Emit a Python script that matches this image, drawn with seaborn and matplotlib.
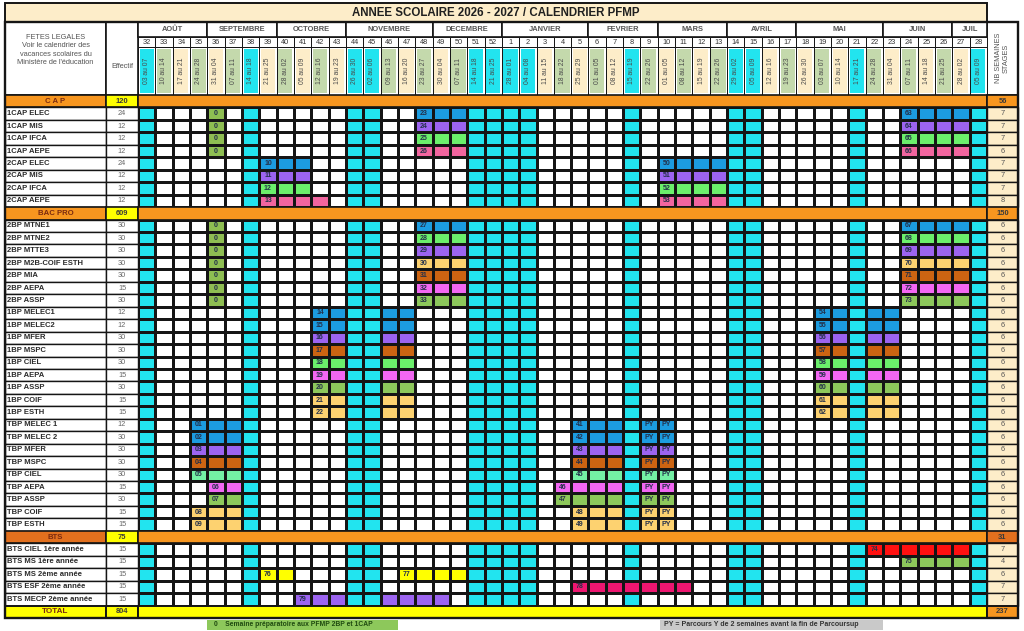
import matplotlib.pyplot as plt
import numpy as np
import seaborn as sns
from matplotlib.colors import ListedColormap
from matplotlib.patches import Rectangle

sns.set_theme(style="white")
plt.rcParams['font.family'] = ['Liberation Sans', 'DejaVu Sans']

TITLE = "ANNEE SCOLAIRE 2026 - 2027 / CALENDRIER PFMP"

# --- calendar header -------------------------------------------------------
weeks = list(range(32, 53)) + list(range(1, 29))
week_dates = ["03 au 07", "10 au 14", "17 au 21", "24 au 28", "31 au 04", "07 au 11", "14 au 18", "21 au 25",
              "28 au 02", "05 au 09", "12 au 16", "19 au 23", "26 au 30", "02 au 06", "09 au 13", "16 au 20",
              "23 au 27", "30 au 04", "07 au 11", "14 au 18", "21 au 25", "28 au 01", "04 au 08", "11 au 15",
              "18 au 22", "25 au 29", "01 au 05", "08 au 12", "15 au 19", "22 au 26", "01 au 05", "08 au 12",
              "15 au 19", "22 au 26", "29 au 02", "05 au 09", "12 au 16", "19 au 23", "26 au 30", "03 au 07",
              "10 au 14", "17 au 21", "24 au 28", "31 au 04", "07 au 11", "14 au 18", "21 au 25", "28 au 02",
              "05 au 09"]
# c = vacances, g / y = alternating shades of the header
week_shade = "cgygygcygygyccgygygccccygygycgygygccygygycgygygyc"
months = ["AOÛT", "SEPTEMBRE", "OCTOBRE", "NOVEMBRE", "DECEMBRE", "JANVIER",
          "FEVRIER", "MARS", "AVRIL", "MAI", "JUIN", "JUIL"]
month_lengths = [4, 4, 4, 5, 4, 5, 4, 4, 4, 5, 4, 2]
holiday_weeks = [w for w, s in zip(weeks, week_shade) if s == "c"]

# --- classes ---------------------------------------------------------------
section_titles = ["C A P", "BAC PRO", "BTS"]
section_effectif = [120, 609, 75]
section_nb = [56, 150, 31]
section_sizes = [8, 25, 5]
total_effectif = 804
total_nb = 237

class_names = ["1CAP ELEC", "1CAP MIS", "1CAP IFCA", "1CAP AEPE",
               "2CAP ELEC", "2CAP MIS", "2CAP IFCA", "2CAP AEPE",
               "2BP MTNE1", "2BP MTNE2", "2BP MTTE3", "2BP M2B-COIF ESTH", "2BP MIA", "2BP AEPA", "2BP ASSP",
               "1BP MELEC1", "1BP MELEC2", "1BP MFER", "1BP MSPC", "1BP CIEL", "1BP AEPA", "1BP ASSP",
               "1BP COIF", "1BP ESTH",
               "TBP MELEC 1", "TBP MELEC 2", "TBP MFER", "TBP MSPC", "TBP CIEL", "TBP AEPA", "TBP ASSP",
               "TBP COIF", "TBP ESTH",
               "BTS CIEL 1ère année", "BTS MS 1ère année", "BTS MS 2ème année", "BTS ESF 2ème année",
               "BTS MECP 2ème année"]
effectifs = [24, 12, 12, 12, 24, 12, 12, 12,
             30, 30, 30, 30, 30, 15, 30,
             12, 12, 30, 30, 30, 15, 30, 15, 15,
             12, 30, 30, 30, 30, 15, 30, 15, 15,
             15, 15, 15, 15, 15]
nb_semaines = [7, 7, 7, 6, 7, 7, 7, 8,
               6, 6, 6, 6, 6, 6, 6,
               6, 6, 6, 6, 6, 6, 6, 6, 6,
               6, 6, 6, 6, 6, 6, 6, 6, 6,
               7, 4, 6, 7, 7]
class_colors = ["blue", "purple", "green", "pink", "blue", "purple", "green", "pink",
                "blue", "green", "purple", "gold", "brown", "magenta", "olive",
                "blue", "blue", "purple", "brown", "green", "magenta", "olive", "gold", "gold",
                "blue", "blue", "purple", "brown", "mint", "magenta", "olive", "gold", "gold",
                "red", "olive", "yellow", "crimson", "purple"]

cap1 = [48, 49, 50]
cap_end = [24, 25, 26, 27]
bp1 = [42, 43, 46, 47]
bp2 = [19, 20, 22, 23]
tbp1 = [35, 36, 37]
tbp2 = [5, 6, 7]
stages = [
    [("23", cap1), ("63", cap_end)], [("24", cap1), ("64", cap_end)],
    [("25", cap1), ("65", cap_end)], [("26", cap1), ("66", cap_end)],
    [("10", [39, 40, 41]), ("50", [10, 11, 12, 13])], [("11", [39, 40, 41]), ("51", [10, 11, 12, 13])],
    [("12", [39, 40, 41]), ("52", [10, 11, 12, 13])], [("13", [39, 40, 41, 42]), ("53", [10, 11, 12, 13])],
    [("27", cap1), ("67", cap_end)], [("28", cap1), ("68", cap_end)], [("29", cap1), ("69", cap_end)],
    [("30", cap1), ("70", cap_end)], [("31", cap1), ("71", cap_end)], [("32", cap1), ("72", cap_end)],
    [("33", cap1), ("73", cap_end)],
    [("14", bp1), ("54", bp2)], [("15", bp1), ("55", bp2)], [("16", bp1), ("56", bp2)],
    [("17", bp1), ("57", bp2)], [("18", bp1), ("58", bp2)], [("19", bp1), ("59", bp2)],
    [("20", bp1), ("60", bp2)], [("21", bp1), ("61", bp2)], [("22", bp1), ("62", bp2)],
    [("01", tbp1), ("41", tbp2), ("PY", [9]), ("PY", [10])],
    [("02", tbp1), ("42", tbp2), ("PY", [9]), ("PY", [10])],
    [("03", tbp1), ("43", tbp2), ("PY", [9]), ("PY", [10])],
    [("04", tbp1), ("44", tbp2), ("PY", [9]), ("PY", [10])],
    [("05", tbp1), ("45", tbp2), ("PY", [9]), ("PY", [10])],
    [("06", [36, 37]), ("46", [4, 5, 6, 7]), ("PY", [9]), ("PY", [10])],
    [("07", [36, 37]), ("47", [4, 5, 6, 7]), ("PY", [9]), ("PY", [10])],
    [("08", tbp1), ("48", tbp2), ("PY", [9]), ("PY", [10])],
    [("09", tbp1), ("49", tbp2), ("PY", [9]), ("PY", [10])],
    [("74", [22, 23, 24, 25, 26, 27])],
    [("75", [24, 25, 26, 27])],
    [("76", [39, 40]), ("77", [47, 48, 49, 50])],
    [("78", [5, 6, 7, 8, 9, 10, 11])],
    [("79", [41, 42, 43, 46, 47, 48, 49])],
]
prep_week = 36
prep_classes = ["1CAP ELEC", "1CAP MIS", "1CAP IFCA", "1CAP AEPE",
                "2BP MTNE1", "2BP MTNE2", "2BP MTTE3", "2BP M2B-COIF ESTH", "2BP MIA", "2BP AEPA", "2BP ASSP"]

palette = {
    "white": "#FFFFFF", "cyan": "#22E4EF", "blue": "#1C9CE0", "purple": "#9C64F0",
    "green": "#6BEF6B", "pink": "#F2659F", "gold": "#FDD270", "brown": "#CC6412",
    "magenta": "#F267F2", "olive": "#8DC85B", "mint": "#74F0A4", "yellow": "#FFFF00",
    "red": "#FF1010", "crimson": "#EE1670", "prep": "#8EBE52",
}
ORANGE = "#F7961F"
DARK_ORANGE = "#E2701E"
CREAM = "#FDEDC9"
HDR_GREEN = "#C4D9AC"
TXT = "#555555"

# --- build the body grid ---------------------------------------------------
keys = list(palette)
n_rows = sum(section_sizes) + len(section_sizes) + 1
row_kind = []
ci = 0
for s, size in enumerate(section_sizes):
    row_kind.append(("section", s))
    for _ in range(size):
        row_kind.append(("class", ci))
        ci += 1
row_kind.append(("total", None))

codes = np.zeros((n_rows, len(weeks)))
annot = np.full((n_rows, len(weeks)), "", dtype=object)
mask = np.zeros((n_rows, len(weeks)), dtype=bool)
for r, (kind, idx) in enumerate(row_kind):
    if kind != "class":
        mask[r, :] = True
        continue
    for w in holiday_weeks:
        codes[r, weeks.index(w)] = keys.index("cyan")
    if class_names[idx] in prep_classes:
        codes[r, weeks.index(prep_week)] = keys.index("prep")
        annot[r, weeks.index(prep_week)] = "0"
    for label, wk in stages[idx]:
        for w in wk:
            codes[r, weeks.index(w)] = keys.index(class_colors[idx])
        annot[r, weeks.index(wk[0])] = label

# --- geometry (pixels) -----------------------------------------------------
W, H = 1024, 631
X0, X_EFF, X_W0, X_W1, X_NB1 = 5, 106, 138, 987, 1018
Y_T0, Y_T1, Y_M1, Y_K1, Y_B0, Y_B1 = 3, 22, 37, 47, 95, 618
colw = (X_W1 - X_W0) / len(weeks)
rowh = (Y_B1 - Y_B0) / n_rows

fig = plt.figure(figsize=(W / 100, H / 100), dpi=100)
hx = fig.add_axes([X_W0 / W, 1 - Y_B1 / H, (X_W1 - X_W0) / W, (Y_B1 - Y_B0) / H])
sns.heatmap(codes, mask=mask, ax=hx, cmap=ListedColormap([palette[k] for k in keys]),
            vmin=-0.5, vmax=len(keys) - 0.5, cbar=False, linewidths=1.0, linecolor="#151515",
            annot=annot, fmt="", annot_kws={"size": 5.0, "weight": "bold", "color": "#23304a"},
            xticklabels=False, yticklabels=False)
hx.axis("off")

ax = fig.add_axes([0, 0, 1, 1])
ax.set_xlim(0, W)
ax.set_ylim(H, 0)
ax.axis("off")


def box(x0, y0, x1, y1, fc="white", lw=1.0, ec="#151515", z=2):
    ax.add_patch(Rectangle((x0, y0), x1 - x0, y1 - y0, facecolor=fc, edgecolor=ec, lw=lw, zorder=z))


# title and header
box(X0, Y_T0, X_W1, Y_T1, fc=CREAM, lw=1.4)
ax.text((X0 + X_W1) / 2, (Y_T0 + Y_T1) / 2 + 0.5, TITLE, ha="center", va="center",
        fontsize=8.3, weight="bold", color="#202020", zorder=5)
box(X0, Y_T1, X_EFF, Y_B0, lw=1.2)
box(X_EFF, Y_T1, X_W0, Y_B0, lw=1.2)
box(X_W1, Y_T1, X_NB1, Y_B0, lw=1.2)
ax.text((X0 + X_EFF) / 2, 50, "FETES LEGALES\nVoir le calendrier des\nvacances scolaires du\nMinistère de l'éducation",
        ha="center", va="center", fontsize=5.3, color=TXT, linespacing=1.25, zorder=5)
ax.text((X_EFF + X_W0) / 2, 66, "Effectif", ha="center", va="center", fontsize=5.3, color=TXT, zorder=5)
ax.text((X_W1 + X_NB1) / 2, 58, "NB SEMAINES\nSTAGES", ha="center", va="center", rotation=90,
        fontsize=5.3, color=TXT, linespacing=1.0, zorder=5)

start = 0
for name, n in zip(months, month_lengths):
    box(X_W0 + start * colw, Y_T1, X_W0 + (start + n) * colw, Y_M1, lw=1.2)
    ax.text(X_W0 + (start + n / 2) * colw, (Y_T1 + Y_M1) / 2, name, ha="center", va="center",
            fontsize=5.4, weight="bold", color=TXT, zorder=5)
    start += n

shade = {"c": palette["cyan"], "g": HDR_GREEN, "y": CREAM}
for i, (w, d, s) in enumerate(zip(weeks, week_dates, week_shade)):
    x = X_W0 + i * colw
    box(x, Y_M1, x + colw, Y_K1, lw=0.7)
    ax.text(x + colw / 2, (Y_M1 + Y_K1) / 2 + 0.3, str(w), ha="center", va="center",
            fontsize=5.3, color="#333333", zorder=5)
    box(x, Y_K1, x + colw, Y_B0, lw=0.7)
    box(x + 1.6, Y_K1 + 1.6, x + colw - 1.6, Y_B0 - 1.6, fc=shade[s], lw=0, ec="none", z=3)
    ax.text(x + colw / 2, (Y_K1 + Y_B0) / 2, d, ha="center", va="center", rotation=90,
            fontsize=4.9, color="#4a4a4a", zorder=5)

# body: left columns, section rows, total row
for r, (kind, idx) in enumerate(row_kind):
    y0, y1 = Y_B0 + r * rowh, Y_B0 + (r + 1) * rowh
    ym = (y0 + y1) / 2
    if kind == "class":
        box(X0, y0, X_EFF, y1)
        box(X_EFF, y0, X_W0, y1)
        box(X_W1, y0, X_NB1, y1, fc=CREAM)
        ax.text(X0 + 2, ym, class_names[idx], ha="left", va="center", fontsize=5.5,
                weight="bold", color="#2b2b2b", zorder=5)
        ax.text((X_EFF + X_W0) / 2, ym, str(effectifs[idx]), ha="center", va="center",
                fontsize=5.3, color="#666666", zorder=5)
        ax.text((X_W1 + X_NB1) / 2, ym, str(nb_semaines[idx]), ha="center", va="center",
                fontsize=5.3, color="#555555", zorder=5)
    elif kind == "section":
        left = DARK_ORANGE if section_titles[idx] == "BTS" else ORANGE
        box(X0, y0, X_EFF, y1, fc=left, lw=1.2)
        box(X_EFF, y0, X_W0, y1, fc="#FFFF00", lw=1.2)
        box(X_W0, y0, X_W1, y1, fc=ORANGE, lw=1.2)
        box(X_W1, y0, X_NB1, y1, fc=left, lw=1.2)
        ax.text((X0 + X_EFF) / 2, ym, section_titles[idx], ha="center", va="center", fontsize=5.6,
                weight="bold", color="#7a2a10", zorder=5)
        ax.text((X_EFF + X_W0) / 2, ym, str(section_effectif[idx]), ha="center", va="center",
                fontsize=5.4, weight="bold", color="#3a3a3a", zorder=5)
        ax.text((X_W1 + X_NB1) / 2, ym, str(section_nb[idx]), ha="center", va="center",
                fontsize=5.4, weight="bold", color="#3a3a3a", zorder=5)
    else:
        box(X0, y0, X_EFF, y1, fc="#FFFF00", lw=1.4)
        box(X_EFF, y0, X_W0, y1, fc="#FFFF00", lw=1.4)
        box(X_W0, y0, X_W1, y1, fc="#FFFF00", lw=1.4)
        box(X_W1, y0, X_NB1, y1, fc=ORANGE, lw=1.4)
        ax.text((X0 + X_EFF) / 2, ym, "TOTAL", ha="center", va="center", fontsize=5.9,
                weight="bold", color="#7a2a10", zorder=5)
        ax.text((X_EFF + X_W0) / 2, ym, str(total_effectif), ha="center", va="center",
                fontsize=5.4, weight="bold", color="#3a3a3a", zorder=5)
        ax.text((X_W1 + X_NB1) / 2, ym, str(total_nb), ha="center", va="center",
                fontsize=5.4, weight="bold", color="#3a3a3a", zorder=5)

# outer frame
box(X0, Y_T1, X_NB1, Y_B1, fc="none", lw=1.7, z=6)

# legends
box(207, 620, 398, 630, fc=palette["olive"], lw=0, ec="none")
ax.text(214, 625, "0    Semaine préparatoire aux PFMP 2BP et 1CAP", ha="left", va="center",
        fontsize=4.9, weight="bold", color="#1f4a10", zorder=5)
box(660, 620, 883, 630, fc="#C9C9C9", lw=0, ec="none")
ax.text(664, 625, "PY = Parcours Y de 2 semaines avant la fin de Parcoursup", ha="left", va="center",
        fontsize=5.0, weight="bold", color="#333333", zorder=5)

fig.savefig("out.png", dpi=100)
